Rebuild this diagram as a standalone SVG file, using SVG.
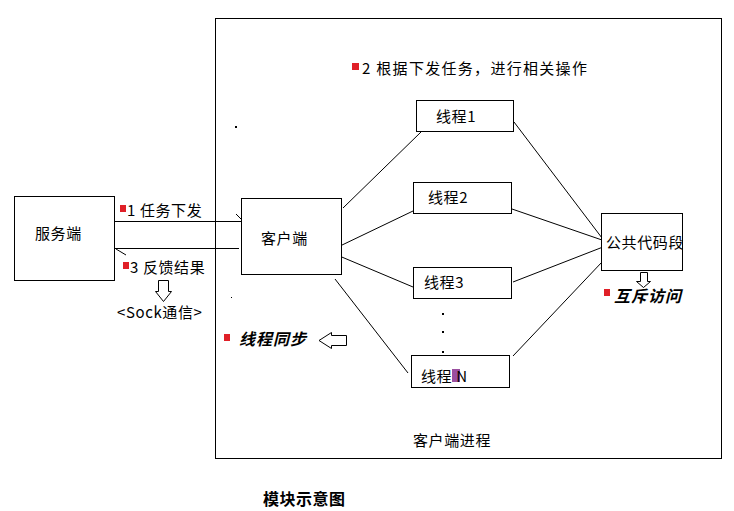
<svg xmlns="http://www.w3.org/2000/svg" width="734" height="511" viewBox="0 0 734 511">
<style>
.box{fill:#fff;stroke:#000;stroke-width:1}
.ln{stroke:#000;stroke-width:1;fill:none}
.t{font-family:"Noto Sans CJK SC","Liberation Sans",sans-serif;font-size:15px;letter-spacing:0.6px;fill:#000}
.w{letter-spacing:1.3px}
.bi{font-family:"Noto Sans CJK SC","Liberation Sans",sans-serif;font-size:16px;letter-spacing:1px;font-weight:bold;font-style:italic;fill:#000}
.b{font-family:"Noto Sans CJK SC","Liberation Serif",serif;font-size:16px;letter-spacing:0.5px;font-weight:bold;fill:#000}
.sq{fill:#e02028}
.ha{fill:#fff;stroke:#000;stroke-width:1}
</style>
<rect width="734" height="511" fill="#fff"/>
<g id="process">
<rect class="box" x="215.5" y="18.5" width="506" height="440"/>
<text class="t" x="452" y="446" text-anchor="middle">客户端进程</text>
</g>
<g id="connectors">
<line class="ln" x1="114" y1="221.5" x2="242" y2="221.5"/>
<line class="ln" x1="236" y1="214" x2="242" y2="220"/>
<line class="ln" x1="114" y1="248.5" x2="239" y2="248.5"/>
<line class="ln" x1="116" y1="249" x2="126" y2="255"/>
<line class="ln" x1="343" y1="208" x2="421" y2="132"/>
<line class="ln" x1="340" y1="246" x2="413" y2="211"/>
<line class="ln" x1="337" y1="255" x2="413" y2="287"/>
<line class="ln" x1="335" y1="279" x2="408" y2="373"/>
<line class="ln" x1="514" y1="122" x2="602" y2="238"/>
<line class="ln" x1="512" y1="209" x2="602" y2="240"/>
<line class="ln" x1="513" y1="282" x2="603" y2="247"/>
<line class="ln" x1="513" y1="356" x2="602" y2="262"/>
</g>
<g id="server">
<rect class="box" x="14.5" y="196.5" width="100" height="84"/>
<text class="t" x="35" y="239">服务端</text>
</g>
<g id="client">
<rect class="box" x="241.5" y="198.5" width="100" height="76"/>
<text class="t" x="261" y="244">客户端</text>
</g>
<g id="thread1">
<rect class="box" x="416.5" y="100.5" width="97" height="31"/>
<text class="t" x="436" y="122">线程1</text>
</g>
<g id="thread2">
<rect class="box" x="413.5" y="182.5" width="98" height="31"/>
<text class="t" x="428" y="203">线程2</text>
</g>
<g id="thread3">
<rect class="box" x="413.5" y="267.5" width="98" height="31"/>
<text class="t" x="424" y="288">线程3</text>
</g>
<g id="threadN">
<rect class="box" x="411.5" y="355.5" width="98" height="32"/>
<rect x="452" y="369" width="8" height="13" fill="#9b4fa0"/>
<text class="t" x="421" y="382">线程 N</text>
</g>
<g id="public">
<rect class="box" x="601.5" y="213.5" width="81" height="57"/>
<text class="t" x="606" y="248">公共代码段</text>
</g>
<g id="labels">
<rect class="sq" x="120" y="205" width="6" height="7"/>
<text class="t" x="127" y="216">1 任务下发</text>
<rect class="sq" x="123" y="262" width="6" height="7"/>
<text class="t" x="130" y="273">3 反馈结果</text>
<polygon class="ha" points="158.5,280.5 168.5,280.5 168.5,291.5 171.5,291.5 163.5,301.5 155.5,291.5 158.5,291.5"/>
<text class="t" x="117" y="318">&lt;Sock通信&gt;</text>
<rect class="sq" x="352" y="63" width="7" height="7"/>
<text class="t w" x="362" y="74">2 根据下发任务，进行相关操作</text>
<rect class="sq" x="224" y="334" width="6" height="7"/>
<text class="bi" x="239" y="345">线程同步</text>
<polygon class="ha" points="319,340.5 331.5,332.5 331.5,335.5 346.5,335.5 346.5,345.5 331.5,345.5 331.5,348.5"/>
<polygon class="ha" points="640.5,272.5 647.5,272.5 647.5,281.5 650.5,281.5 643.5,287.5 636.5,281.5 640.5,281.5"/>
<rect class="sq" x="604" y="289" width="6" height="7"/>
<text class="bi" x="614" y="302">互斥访问</text>
<rect x="235" y="126" width="2" height="2" fill="#000"/>
<rect x="231" y="297" width="1" height="1" fill="#000"/>
<rect x="442" y="313" width="2" height="2" fill="#000"/>
<rect x="442" y="331" width="2" height="2" fill="#000"/>
<rect x="442" y="351" width="2" height="2" fill="#000"/>
<text class="b" x="263" y="505">模块示意图</text>
</g>
</svg>
